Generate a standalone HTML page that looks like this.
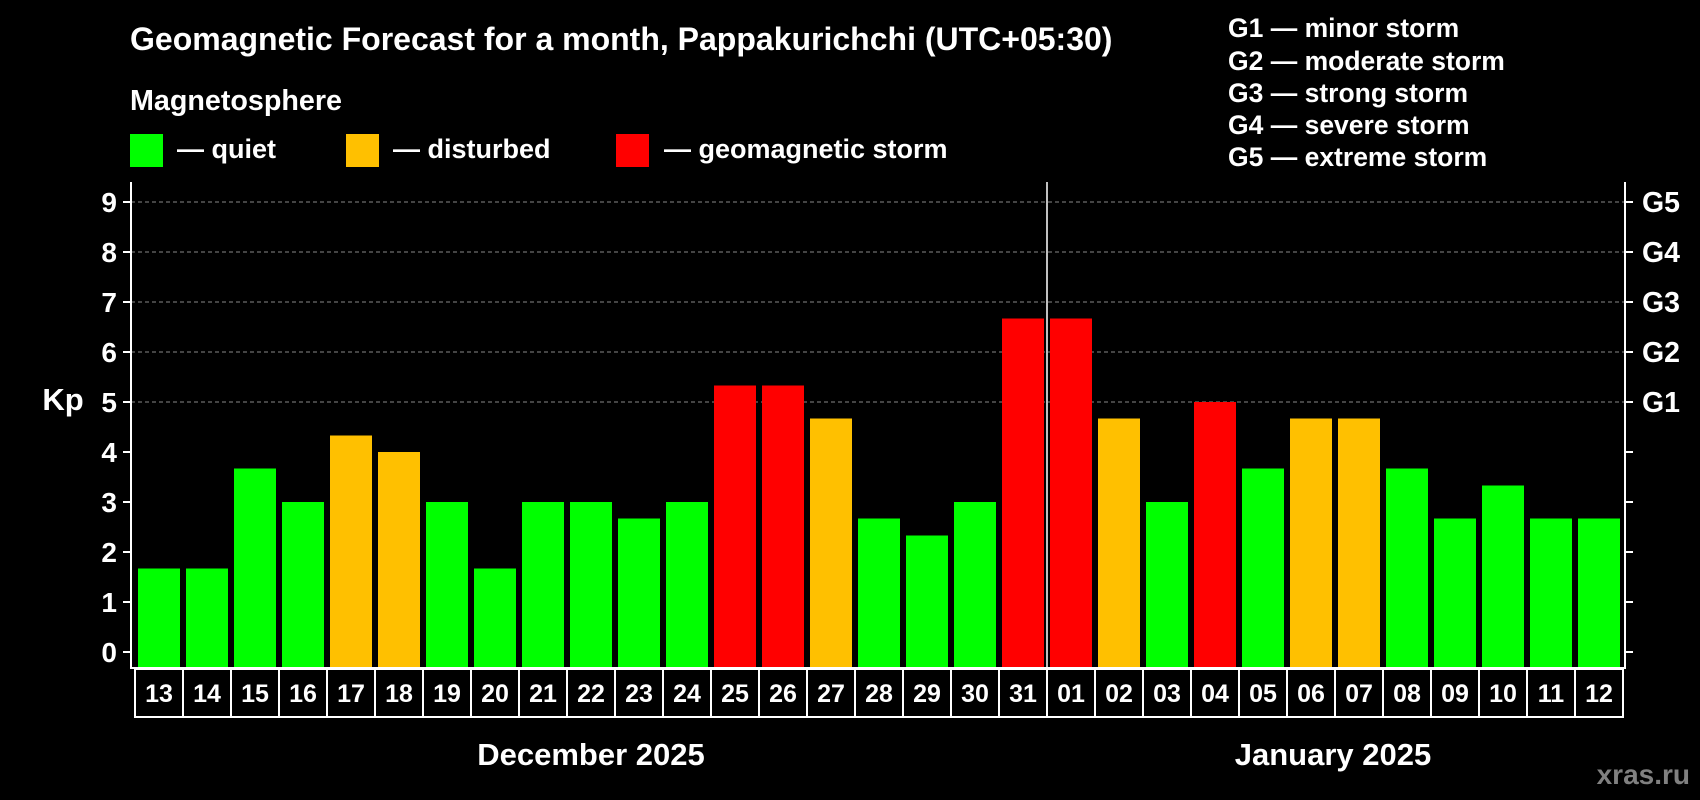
<!DOCTYPE html>
<html><head><meta charset="utf-8"><style>
html,body{margin:0;padding:0;background:#000;}
svg{display:block;font-family:"Liberation Sans",Arial,sans-serif;font-weight:bold;}
</style></head><body>
<svg id="chart" width="1700" height="800" viewBox="0 0 1700 800">
<rect width="1700" height="800" fill="#000"/>
<text x="130" y="50" font-size="32" fill="#fff">Geomagnetic Forecast for a month, Pappakurichchi (UTC+05:30)</text>
<text x="130" y="110" font-size="28.7" fill="#fff">Magnetosphere</text>
<g><rect x="130" y="134" width="33" height="33" fill="#00ff00"/><text x="177" y="158" font-size="27" fill="#fff">— quiet</text></g>
<g><rect x="346" y="134" width="33" height="33" fill="#ffc000"/><text x="393" y="158" font-size="27" fill="#fff">— disturbed</text></g>
<g><rect x="616" y="134" width="33" height="33" fill="#ff0000"/><text x="664" y="158" font-size="27" fill="#fff">— geomagnetic storm</text></g>
<g font-size="26.5" fill="#fff">
<text x="1228" y="37">G1 — minor storm</text>
<text x="1228" y="70">G2 — moderate storm</text>
<text x="1228" y="102">G3 — strong storm</text>
<text x="1228" y="134">G4 — severe storm</text>
<text x="1228" y="166">G5 — extreme storm</text>
</g>
<text x="63" y="410" font-size="31" fill="#fff" text-anchor="middle">Kp</text>
<g id="plot"></g>
<text x="591" y="765" font-size="31" fill="#fff" text-anchor="middle">December 2025</text>
<text x="1333" y="765" font-size="31" fill="#fff" text-anchor="middle">January 2025</text>
<text x="1690" y="784" font-size="28" fill="#808080" text-anchor="end">xras.ru</text>
</svg>
<script>
const days = ["13","14","15","16","17","18","19","20","21","22","23","24","25","26","27","28","29","30","31","01","02","03","04","05","06","07","08","09","10","11","12"];
const kpValues = [1.67,1.67,3.67,3,4.33,4,3,1.67,3,3,2.67,3,5.33,5.33,4.67,2.67,2.33,3,6.67,6.67,4.67,3,5,3.67,4.67,4.67,3.67,2.67,3.33,2.67,2.67];
const yTicks = [0,1,2,3,4,5,6,7,8,9];
const gLabels = ["G1","G2","G3","G4","G5"];
const gLevels = [5,6,7,8,9];

(function(){
const NS = "http://www.w3.org/2000/svg";
const plot = document.getElementById("plot");
const pLeft = 131, pRight = 1625, pTop = 182, pBottom = 668;
const y0 = 652, unit = 50;
const yScale = v => y0 - v * unit;
const step = 48, boxLeft = 135;
const xScale = i => boxLeft + i * step;
function mk(tag, attrs){const e=document.createElementNS(NS,tag);for(const k in attrs)e.setAttribute(k,attrs[k]);plot.appendChild(e);return e;}
function color(v){return v>=5?"#ff0000":(v>=4?"#ffc000":"#00ff00");}

gLevels.forEach((lv,i)=>{
  const l = mk("line",{x1:pLeft,x2:pRight,y1:yScale(lv),y2:yScale(lv),stroke:"#888","stroke-dasharray":"4,3","stroke-width":1});
  
  
  const t = mk("text",{x:1642,y:yScale(lv)+10,"font-size":28.5,fill:"#fff"});
  t.textContent = gLabels[i];
  
  
});
kpValues.forEach((v,i)=>{
  const r = mk("rect",{x:xScale(i)+3,y:yScale(v),width:42,height:pBottom-yScale(v),fill:color(v)});
  
  
  const b = mk("rect",{x:xScale(i),y:pBottom+1,width:step,height:48,fill:"none",stroke:"#fff","stroke-width":2});
  
  
  const t = mk("text",{x:xScale(i)+step/2,y:pBottom+34,"font-size":25,fill:"#fff","text-anchor":"middle"});
  t.textContent = days[i];
  
  
});
const dx = xScale(days.indexOf("01"));
const divider = mk("line",{x1:dx,x2:dx,y1:pTop,y2:pBottom,stroke:"#fff","stroke-width":1.5});


const axes = mk("path",{d:`M${pLeft},${pTop} V${pBottom} H${pRight} V${pTop}`,fill:"none",stroke:"#fff","stroke-width":2});


yTicks.forEach(v=>{
  const y = yScale(v);
  const tl = mk("line",{x1:pLeft-8,x2:pLeft,y1:y,y2:y,stroke:"#fff","stroke-width":2});
  
  
  const tr = mk("line",{x1:pRight,x2:pRight+8,y1:y,y2:y,stroke:"#fff","stroke-width":2});
  
  
  const t = mk("text",{x:pLeft-14,y:y+10,"font-size":28,fill:"#fff","text-anchor":"end"});
  t.textContent = v;
  
  
});
})();
</script>
</body></html>
